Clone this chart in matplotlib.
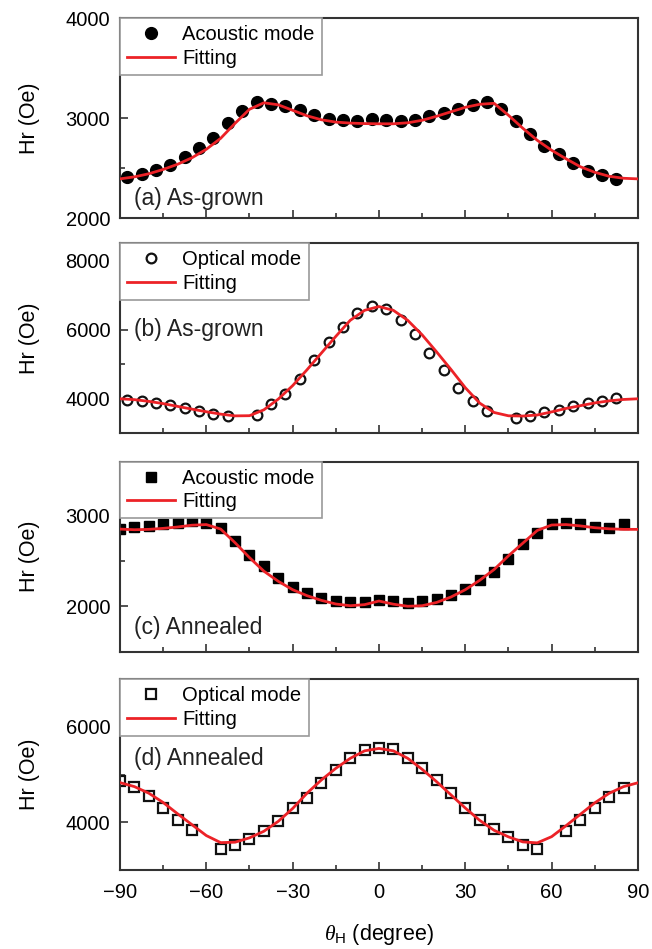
import matplotlib
matplotlib.use('Agg')
import matplotlib.pyplot as plt
from matplotlib.ticker import MultipleLocator

plt.rcParams['font.family'] = ['Liberation Sans', 'DejaVu Sans']
plt.rcParams['mathtext.fontset'] = 'custom'
plt.rcParams['mathtext.rm'] = 'Liberation Sans'
plt.rcParams['mathtext.it'] = 'Liberation Serif:italic'

# measured points (degree, Oe)
theta_a = [-87.5, -82.5, -77.5, -72.5, -67.5, -62.5, -57.5, -52.5, -47.5, -42.5,
           -37.5, -32.5, -27.5, -22.5, -17.5, -12.5, -7.5, -2.5, 2.5, 7.5,
           12.5, 17.5, 22.5, 27.5, 32.5, 37.5, 42.5, 47.5, 52.5, 57.5,
           62.5, 67.5, 72.5, 77.5, 82.5]
hr_a = [2410, 2444, 2487, 2531, 2611, 2702, 2806, 2957, 3070, 3164,
        3144, 3124, 3080, 3033, 2997, 2980, 2970, 2997, 2980, 2973,
        2983, 3023, 3050, 3090, 3134, 3164, 3095, 2968, 2839, 2722,
        2638, 2548, 2470, 2430, 2397]

theta_b = [-87.5, -82.5, -77.5, -72.5, -67.5, -62.5, -57.5, -52.5, -42.5,
           -37.5, -32.5, -27.5, -22.5, -17.5, -12.5, -7.5, -2.5, 2.5, 7.5,
           12.5, 17.5, 22.5, 27.5, 32.5, 37.5, 47.5, 52.5, 57.5,
           62.5, 67.5, 72.5, 77.5, 82.5]
hr_b = [3971, 3923, 3874, 3826, 3729, 3632, 3565, 3488, 3536,
        3845, 4135, 4565, 5130, 5632, 6078, 6484, 6675, 6600, 6270,
        5875, 5324, 4840, 4310, 3942, 3652, 3440, 3507, 3603,
        3681, 3777, 3874, 3923, 4020]

theta_c = [-90, -85, -80, -75, -70, -65, -60, -55, -50, -45, -40, -35, -30, -25,
           -20, -15, -10, -5, 0, 5, 10, 15, 20, 25, 30, 35, 40, 45, 50, 55,
           60, 65, 70, 75, 80, 85]
hr_c = [2860, 2880, 2889, 2908, 2926, 2944, 2919, 2871, 2722, 2574, 2444, 2315, 2215, 2152,
        2093, 2056, 2044, 2052, 2074, 2059, 2037, 2063, 2081, 2130, 2193, 2289, 2378, 2528, 2686, 2815,
        2908, 2926, 2908, 2882, 2871, 2908]

theta_d = [-90, -85, -80, -75, -70, -65, -55, -50, -45, -40, -35, -30, -25,
           -20, -15, -10, -5, 0, 5, 10, 15, 20, 25, 30, 35, 40, 45, 50, 55,
           65, 70, 75, 80, 85]
hr_d = [4860, 4745, 4563, 4300, 4050, 3848, 3438, 3535, 3647, 3814, 4021, 4300, 4520,
        4821, 5090, 5342, 5507, 5560, 5528, 5342, 5143, 4897, 4612, 4300, 4040, 3862, 3690, 3535, 3431,
        3813, 4042, 4300, 4529, 4717]

theta_fit = [-90, -85, -80, -75, -70, -65, -60, -55, -50, -45, -40, -35, -30, -25,
             -20, -15, -10, -5, 0, 5, 10, 15, 20, 25, 30, 35, 40, 45, 50, 55,
             60, 65, 70, 75, 80, 85, 90]
fit_a = [2394, 2414, 2445, 2488, 2540, 2605, 2690, 2800, 2950, 3090, 3155, 3135, 3080, 3025,
         2985, 2962, 2952, 2947, 2945, 2945, 2955, 2980, 3020, 3065, 3110, 3140, 3150, 3030, 2900, 2780,
         2680, 2595, 2515, 2460, 2420, 2400, 2394]
fit_b = [4000, 3975, 3925, 3860, 3780, 3700, 3625, 3555, 3505, 3510, 3680, 3990, 4380, 4840,
         5324, 5806, 6270, 6560, 6670, 6560, 6270, 5850, 5360, 4850, 4320, 3874, 3603, 3507, 3500, 3530,
         3620, 3720, 3800, 3880, 3940, 3980, 4000]
fit_c = [2855, 2848, 2852, 2863, 2878, 2898, 2905, 2855, 2704, 2540, 2390, 2278, 2185, 2119,
         2067, 2027, 2008, 2020, 2060, 2025, 2002, 2008, 2044, 2104, 2185, 2289, 2408, 2560, 2700, 2840,
         2900, 2905, 2890, 2870, 2858, 2852, 2852]
fit_d = [4833, 4750, 4612, 4417, 4181, 3952, 3723, 3575, 3584, 3675, 3813, 4021, 4290, 4612,
         4890, 5133, 5342, 5500, 5550, 5500, 5342, 5112, 4854, 4577, 4300, 4042, 3833, 3696, 3590, 3570,
         3700, 3930, 4170, 4410, 4610, 4750, 4830]

panels = [
    dict(x=theta_a, y=hr_a, fit=fit_a, mode='Acoustic mode', tag='(a) As-grown',
         marker='o', fill=True, ms=8.5, ylim=(2000, 4000), major=1000, minor=500, tagy=0.065),
    dict(x=theta_b, y=hr_b, fit=fit_b, mode='Optical mode', tag='(b) As-grown',
         marker='o', fill=False, ms=7, ylim=(3000, 8500), major=2000, minor=1000, tagy=0.51),
    dict(x=theta_c, y=hr_c, fit=fit_c, mode='Acoustic mode', tag='(c) Annealed',
         marker='s', fill=True, ms=7.5, ylim=(1500, 3600), major=1000, minor=500, tagy=0.095),
    dict(x=theta_d, y=hr_d, fit=fit_d, mode='Optical mode', tag='(d) Annealed',
         marker='s', fill=False, ms=7, ylim=(3000, 7000), major=2000, minor=1000, tagy=0.55),
]

# axes boxes in figure fraction: (bottom, height)
rows = [(0.770, 0.2107), (0.5434, 0.2002), (0.3133, 0.2002), (0.0832, 0.2010)]

red = '#ec2227'
fig = plt.figure(figsize=(6.52, 9.49), dpi=100)

for i, (p, (b, h)) in enumerate(zip(panels, rows)):
    ax = fig.add_axes([0.184, b, 0.7945, h])
    if p['fill']:
        ax.plot(p['x'], p['y'], linestyle='', marker=p['marker'], ms=p['ms'],
                color='black', mec='black', label=p['mode'], zorder=2)
    else:
        ax.plot(p['x'], p['y'], linestyle='', marker=p['marker'], ms=p['ms'],
                mfc='white', mec='#111111', mew=1.6, label=p['mode'], zorder=2)
    ax.plot(theta_fit, p['fit'], color=red, lw=2.0, label='Fitting', zorder=3)

    ax.set_xlim(-90, 90)
    ax.set_ylim(*p['ylim'])
    ax.xaxis.set_major_locator(MultipleLocator(30))
    ax.xaxis.set_minor_locator(MultipleLocator(15))
    ax.yaxis.set_major_locator(MultipleLocator(p['major']))
    ax.yaxis.set_minor_locator(MultipleLocator(p['minor']))
    ax.tick_params(which='both', direction='in', top=False, right=False,
                   labelsize=14.5, color='#333333')
    ax.tick_params(which='major', length=6, width=1.2)
    ax.tick_params(which='minor', length=3.5, width=1.2)
    ax.tick_params(axis='y', pad=7)
    ax.tick_params(axis='x', pad=9)
    for s in ax.spines.values():
        s.set_linewidth(1.5)
        s.set_color('#333333')

    ax.set_ylabel('Hr (Oe)', fontsize=15.5)
    ax.yaxis.set_label_coords(-0.155, 0.5)

    ax.text(0.027, p['tagy'], p['tag'], transform=ax.transAxes, fontsize=16.5,
            ha='left', va='baseline', color='#222222')

    leg = ax.legend(loc='upper left', bbox_to_anchor=(0, 1), borderaxespad=0,
                    fontsize=14.5, fancybox=False, handlelength=2.4, handletextpad=0.35,
                    labelspacing=0.22, borderpad=0.35, framealpha=1)
    leg.get_frame().set_edgecolor('#999999')
    leg.get_frame().set_linewidth(1.2)

    if i < 3:
        ax.tick_params(labelbottom=False)
    else:
        ax.set_xlabel(r'$\theta_{\mathrm{H}}$ (degree)', fontsize=15.5)
        ax.xaxis.set_label_coords(0.5, -0.27)

fig.savefig('out.png', dpi=100)
